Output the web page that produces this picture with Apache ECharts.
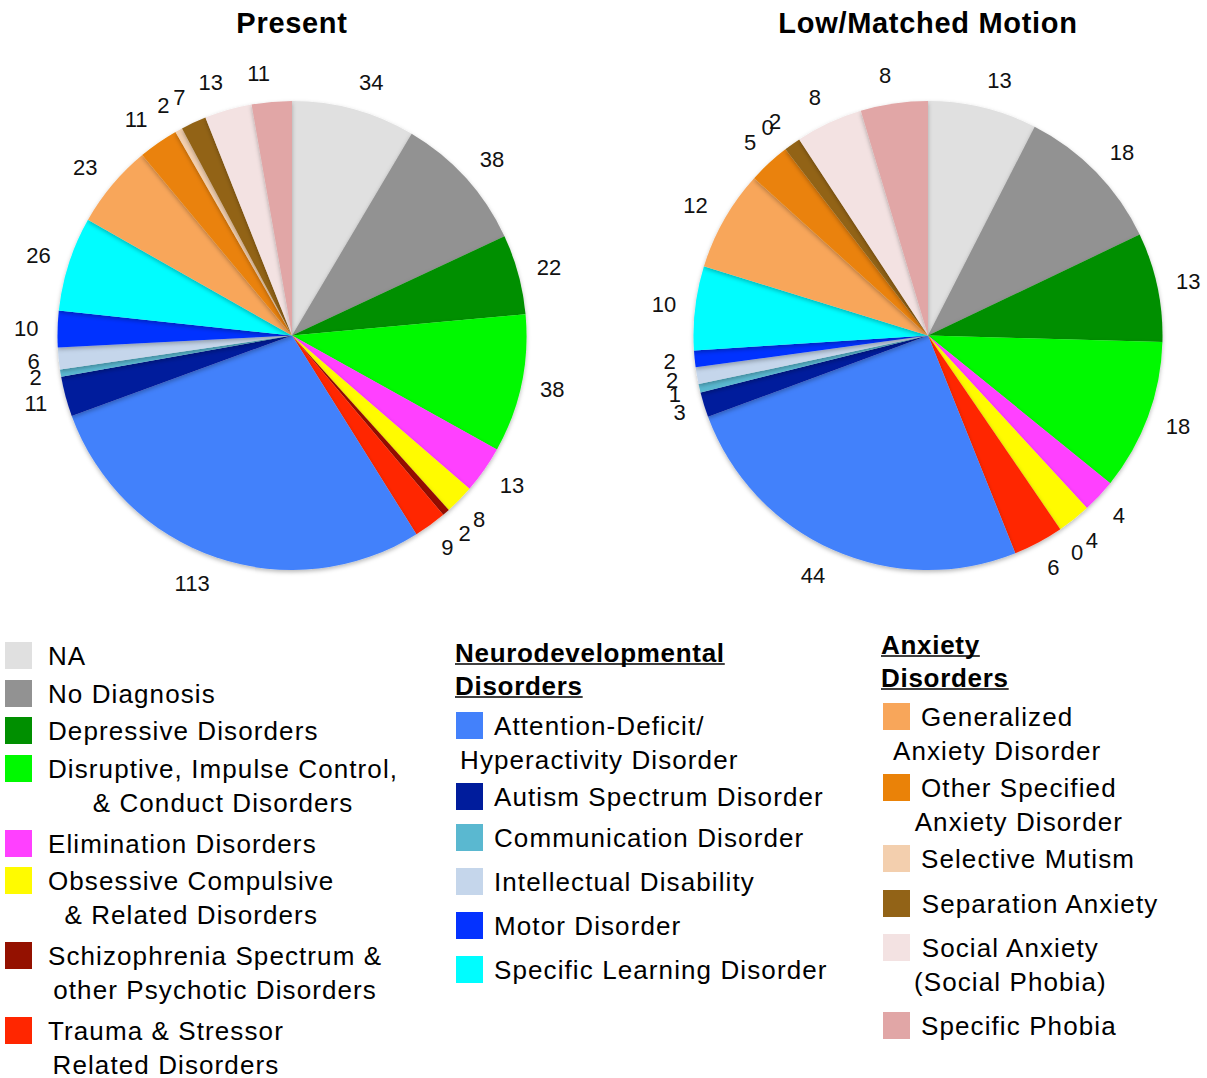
<!DOCTYPE html>
<html>
<head>
<meta charset="utf-8">
<title>Diagnoses: Present vs Low/Matched Motion</title>
<script src="https://cdn.jsdelivr.net/npm/echarts@6/dist/echarts.min.js"></script>
<style>
  html, body { margin: 0; padding: 0; background: #ffffff; }
  #chart { width: 1207px; height: 1078px; }
  /* looser tracking for the legend and the chart titles */
  #chart text[style*="26px"] { letter-spacing: 1.1px; }
  #chart text[style*="26px"][style*="bold"] { letter-spacing: 0.7px; }
  #chart text[style*="29px"] { letter-spacing: 0.7px; }
</style>
</head>
<body>
<div id="chart"></div>
<script>
// Diagnostic categories, in clockwise slice order starting at 12 o'clock.
const categories = [
  'NA',
  'No Diagnosis',
  'Depressive Disorders',
  'Disruptive, Impulse Control,\n& Conduct Disorders',
  'Elimination Disorders',
  'Obsessive Compulsive\n& Related Disorders',
  'Schizophrenia Spectrum &\nother Psychotic Disorders',
  'Trauma & Stressor\nRelated Disorders',
  'Attention-Deficit/\nHyperactivity Disorder',
  'Autism Spectrum Disorder',
  'Communication Disorder',
  'Intellectual Disability',
  'Motor Disorder',
  'Specific Learning Disorder',
  'Generalized\nAnxiety Disorder',
  'Other Specified\nAnxiety Disorder',
  'Selective Mutism',
  'Separation Anxiety',
  'Social Anxiety\n(Social Phobia)',
  'Specific Phobia'
];

// Participant counts per category
const presentCounts   = [34, 38, 22, 38, 13, 8, 2, 9, 113, 11, 2, 6, 10, 26, 23, 11, 2, 7, 13, 11];
const lowMotionCounts = [13, 18, 13, 18, 4, 4, 0, 6, 44, 3, 1, 2, 2, 10, 12, 5, 0, 2, 8, 8];

const chartTitles = ['Present', 'Low/Matched Motion'];

// Legend grouping: general, neurodevelopmental, anxiety
const groupHeadings = ['', 'Neurodevelopmental\nDisorders', 'Anxiety\nDisorders'];
const groupSizes = [8, 6, 6];

const colors = [
  '#E0E0E0', '#929292', '#008F00', '#00F900', '#FF40FF', '#FFFB00', '#941100', '#FF2600',
  '#4381FB', '#001C9C', '#5AB8D0', '#C5D6EB', '#0432FF', '#00FDFF',
  '#F8A65A', '#EA8208', '#F3CFAE', '#926317', '#F3E2E2', '#E1A6A6'
];

// ---- layout ----
const FONT = '"Helvetica Neue", "Liberation Sans", Arial, sans-serif';
const PIE_Y = 335.5;
const PIE_R = 234.5;
const PIE_X = [292, 928];
const LABEL_GAP = 19;        // distance of a value label from the rim
const LABEL_HALF_H = 9;      // half height of a value label

const LEGEND_FONT_SIZE = 26;
const LEGEND_TRACKING = 1.1;
const HEAD_TRACKING = 0.7;
const LEGEND_LINE = 33.5;
const HEAD_LINE = 33;
const SWATCH = 27;
const legendColumns = [
  { iconX: 5,   textX: 48,  headX: 0,   headY: 0,   tops: [642, 680, 717, 755, 830, 867, 942, 1017] },
  { iconX: 456, textX: 494, headX: 455, headY: 653, tops: [712, 783, 824, 868, 912, 956] },
  { iconX: 883, textX: 921, headX: 881, headY: 645, tops: [703, 774, 845, 890, 934, 1012] }
];

const measureCtx = document.createElement('canvas').getContext('2d');
function textWidth(str, size, weight, tracking) {
  measureCtx.font = (weight || 'normal') + ' ' + size + 'px ' + FONT;
  return measureCtx.measureText(str).width + str.length * tracking;
}

function lineText(text, x, y, align, weight) {
  return {
    type: 'text',
    style: {
      text: text, x: x, y: y,
      fontSize: LEGEND_FONT_SIZE, fontWeight: weight || 'normal', fontFamily: FONT,
      fill: '#000', align: align, verticalAlign: 'middle', lineHeight: 22
    }
  };
}

function buildLegend() {
  const elements = [];
  let start = 0;
  groupSizes.forEach(function (size, c) {
    const col = legendColumns[c];
    const heading = groupHeadings[c];
    if (heading) {
      heading.split('\n').forEach(function (ln, j) {
        const cy = col.headY + j * HEAD_LINE;
        elements.push(lineText(ln, col.headX, cy, 'left', 'bold'));
        const w = textWidth(ln, LEGEND_FONT_SIZE, 'bold', HEAD_TRACKING);
        elements.push({
          type: 'line',
          shape: { x1: col.headX, y1: cy + 11, x2: col.headX + w, y2: cy + 11 },
          style: { stroke: '#000', lineWidth: 1.5 }
        });
      });
    }
    for (let k = 0; k < size; k++) {
      const i = start + k;
      const top = col.tops[k];
      const lines = categories[i].split('\n');
      const w1 = textWidth(lines[0], LEGEND_FONT_SIZE, 'normal', LEGEND_TRACKING);
      elements.push({
        type: 'rect',
        shape: { x: col.iconX, y: top, width: SWATCH, height: SWATCH },
        style: { fill: colors[i] }
      });
      // every line is centred on the first line, which starts at textX
      lines.forEach(function (ln, j) {
        elements.push(lineText(ln, col.textX + w1 / 2, top + SWATCH / 2 + 0.8 + j * LEGEND_LINE, 'center'));
      });
    }
    start += size;
  });
  return elements;
}

function pieSeries(name, values, cx) {
  return {
    type: 'pie',
    name: name,
    center: [cx, PIE_Y],
    radius: PIE_R,
    startAngle: 90,
    clockwise: true,
    avoidLabelOverlap: false,
    minShowLabelAngle: 0,
    data: categories.map(function (cat, i) {
      return { name: cat, value: values[i], itemStyle: { color: colors[i] } };
    }),
    itemStyle: {
      borderWidth: 0,
      shadowBlur: 4,
      shadowOffsetY: 2,
      shadowColor: 'rgba(0,0,0,0.28)'
    },
    label: {
      show: true,
      position: 'outside',
      formatter: '{c}',
      fontSize: 22,
      fontFamily: FONT,
      color: '#111'
    },
    // guide line kept invisible; it gives the rim point and direction of each slice
    labelLine: { show: true, length: 10, length2: 0, lineStyle: { opacity: 0 } },
    labelLayout: function (p) {
      const pts = p.labelLinePoints;
      if (!pts) return {};
      const dx = (pts[1][0] - pts[0][0]) / 10;
      const dy = (pts[1][1] - pts[0][1]) / 10;
      return {
        x: pts[0][0] + dx * LABEL_GAP,
        y: pts[0][1] + dy * (LABEL_GAP + LABEL_HALF_H),
        align: dx < 0 ? 'right' : 'left',
        verticalAlign: 'middle'
      };
    },
    emphasis: { disabled: true }
  };
}

const chart = echarts.init(document.getElementById('chart'), null, { renderer: 'svg' });
chart.setOption({
  backgroundColor: '#ffffff',
  animation: false,
  title: chartTitles.map(function (t, i) {
    return {
      text: t,
      left: PIE_X[i],
      top: 8,
      padding: 0,
      textAlign: 'center',
      textStyle: { fontSize: 29, fontWeight: 'bold', fontFamily: FONT, color: '#000' }
    };
  }),
  tooltip: { show: false },
  series: [
    pieSeries(chartTitles[0], presentCounts, PIE_X[0]),
    pieSeries(chartTitles[1], lowMotionCounts, PIE_X[1])
  ],
  graphic: buildLegend()
});
</script>
</body>
</html>
